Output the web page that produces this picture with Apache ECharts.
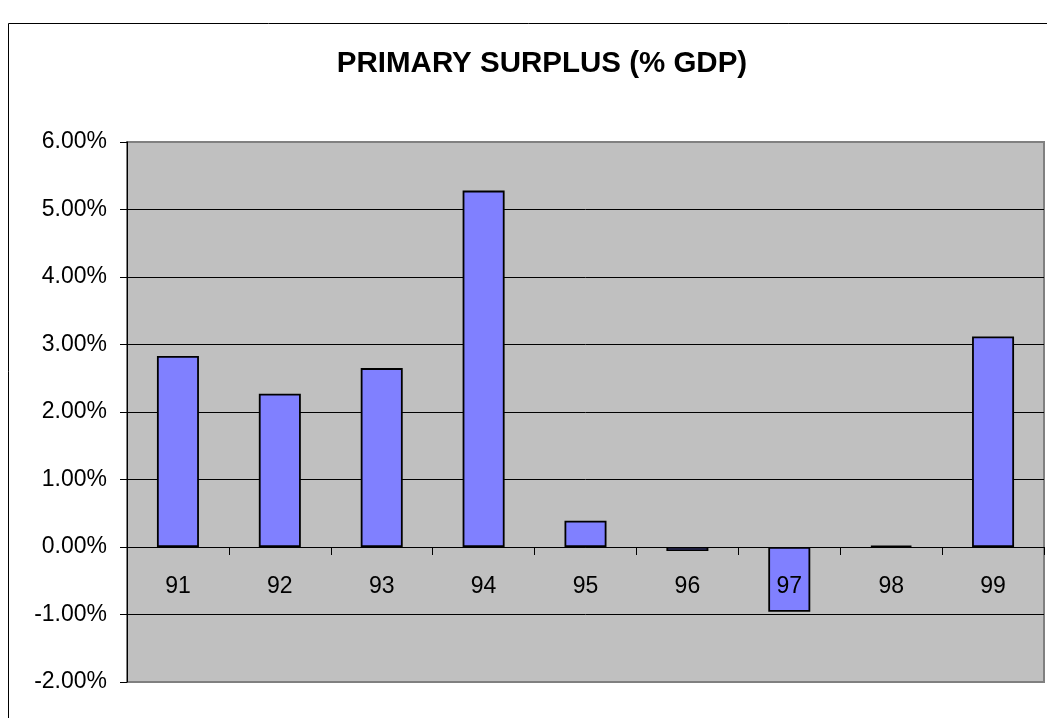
<!DOCTYPE html>
<html>
<head>
<meta charset="utf-8">
<script src="https://cdn.jsdelivr.net/npm/echarts@6/dist/echarts.min.js"></script>
<style>
  html, body { margin: 0; padding: 0; background: #ffffff; }
  #chart { width: 1047px; height: 718px; }
</style>
</head>
<body>
<div id="chart"></div>
<script>
// Fiscal years (19xx) and primary surplus in percent of GDP
const years = ['91', '92', '93', '94', '95', '96', '97', '98', '99'];
const surplus = [2.83, 2.27, 2.65, 5.28, 0.39, -0.06, -0.96, 0.02, 3.12];

// Value axis range, in percent
const yMin = -2;
const yMax = 6;
const yStep = 1;

const chart = echarts.init(document.getElementById('chart'), null, { renderer: 'canvas' });

chart.setOption({
  animation: false,
  backgroundColor: '#ffffff',
  title: {
    text: 'PRIMARY SURPLUS (% GDP)',
    left: 537,
    top: 44,
    textAlign: 'center',
    textStyle: {
      fontFamily: "'Liberation Sans', Arial, sans-serif",
      fontWeight: 'bold',
      fontSize: 29.5,
      color: '#000000'
    }
  },
  graphic: [{
    type: 'rect',
    silent: true,
    z: -10,
    shape: { x: 8.5, y: 23.5, width: 1060, height: 720 },
    style: { fill: 'none', stroke: '#000000', lineWidth: 1 }
  }],
  grid: {
    left: 127,
    right: 3,
    top: 142,
    bottom: 36,
    outerBoundsMode: 'none',
    containLabel: false,
    show: true,
    backgroundColor: '#C0C0C0',
    borderColor: '#808080',
    borderWidth: 2
  },
  xAxis: {
    type: 'category',
    data: years,
    z: 10,
    offset: 0,
    axisLine: { onZero: false, lineStyle: { color: '#000000', width: 1 } },
    axisTick: { show: true, inside: false, length: 8, lineStyle: { color: '#000000' } },
    axisLabel: {
      margin: 28,
      fontFamily: "'Liberation Sans', Arial, sans-serif",
      fontSize: 23,
      color: '#000000'
    },
    splitLine: { show: false }
  },
  yAxis: {
    type: 'value',
    min: yMin,
    max: yMax,
    interval: yStep,
    axisLine: { show: true, lineStyle: { color: '#000000', width: 1 } },
    axisTick: { show: true, inside: false, length: 7, lineStyle: { color: '#000000' } },
    axisLabel: {
      margin: 20,
      fontFamily: "'Liberation Sans', Arial, sans-serif",
      fontSize: 23,
      color: '#000000',
      formatter: v => v.toFixed(2) + '%'
    },
    splitLine: {
      show: true,
      showMinLine: false,
      showMaxLine: false,
      lineStyle: { color: '#000000', width: 1 }
    }
  },
  series: [{
    type: 'bar',
    data: surplus,
    barWidth: 42,
    itemStyle: {
      color: '#8080FF',
      borderColor: '#000000',
      borderWidth: 1.8
    }
  }]
});

// Move the category axis (line, ticks and labels) up to the zero level of the value axis
const zeroY = chart.convertToPixel({ yAxisIndex: 0 }, 0);
const baseY = chart.convertToPixel({ yAxisIndex: 0 }, yMin);
chart.setOption({ xAxis: { offset: zeroY - baseY } });
</script>
</body>
</html>
